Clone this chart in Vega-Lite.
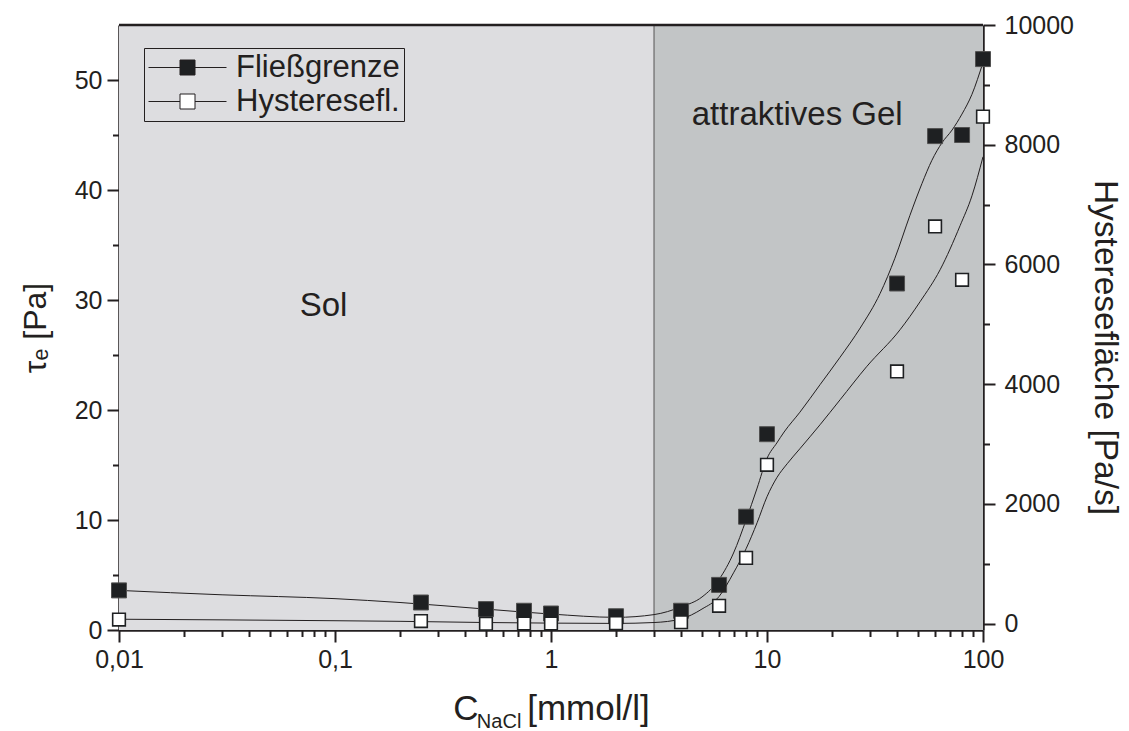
{
  "$schema": "https://vega.github.io/schema/vega-lite/v6.json",
  "width": 864,
  "height": 605,
  "autosize": {"type": "none"},
  "padding": {"left": 119, "top": 25, "right": 146, "bottom": 101},
  "background": "#ffffff",
  "config": {
    "font": "Liberation Sans",
    "locale": {"number": {"decimal": ",", "thousands": ".", "grouping": [3], "currency": ["", " €"]}},
    "view": {"stroke": null},
    "axis": {
      "grid": false,
      "zindex": 1,
      "domainColor": "#231f20",
      "domainWidth": 2.5,
      "tickColor": "#231f20",
      "tickWidth": 2,
      "labelColor": "#231f20",
      "labelFont": "Liberation Sans",
      "labelFontSize": 25,
      "titleColor": "#231f20",
      "titleFont": "Liberation Sans",
      "titleFontSize": 32,
      "titleFontWeight": "normal",
      "labelOverlap": false,
      "labelFlush": false
    },
    "legend": {"strokeWidth": 1}
  },
  "datasets": {
    "regions": [
      {"x1": 0.01, "x2": 3, "region": "Sol"},
      {"x1": 3, "x2": 100, "region": "Gel"}
    ],
    "points": [
      {"c": 0.01, "series": "Fließgrenze", "value": 3.6},
      {"c": 0.25, "series": "Fließgrenze", "value": 2.5},
      {"c": 0.5, "series": "Fließgrenze", "value": 1.9},
      {"c": 0.75, "series": "Fließgrenze", "value": 1.75},
      {"c": 1, "series": "Fließgrenze", "value": 1.5},
      {"c": 2, "series": "Fließgrenze", "value": 1.25},
      {"c": 4, "series": "Fließgrenze", "value": 1.75},
      {"c": 6, "series": "Fließgrenze", "value": 4.1},
      {"c": 8, "series": "Fließgrenze", "value": 10.3},
      {"c": 10, "series": "Fließgrenze", "value": 17.8},
      {"c": 40, "series": "Fließgrenze", "value": 31.5},
      {"c": 60, "series": "Fließgrenze", "value": 44.9},
      {"c": 80, "series": "Fließgrenze", "value": 45.0},
      {"c": 100, "series": "Fließgrenze", "value": 51.9},
      {"c": 0.01, "series": "Hysteresefl.", "value": 70},
      {"c": 0.25, "series": "Hysteresefl.", "value": 45},
      {"c": 0.5, "series": "Hysteresefl.", "value": 0},
      {"c": 0.75, "series": "Hysteresefl.", "value": 5},
      {"c": 1, "series": "Hysteresefl.", "value": 5},
      {"c": 2, "series": "Hysteresefl.", "value": 10},
      {"c": 4, "series": "Hysteresefl.", "value": 25},
      {"c": 6, "series": "Hysteresefl.", "value": 300},
      {"c": 8, "series": "Hysteresefl.", "value": 1100},
      {"c": 10, "series": "Hysteresefl.", "value": 2655},
      {"c": 40, "series": "Hysteresefl.", "value": 4213},
      {"c": 60, "series": "Hysteresefl.", "value": 6635},
      {"c": 80, "series": "Hysteresefl.", "value": 5745},
      {"c": 100, "series": "Hysteresefl.", "value": 8470}
    ],
    "fitF": [
      {"c": 0.01, "value": 3.6},
      {"c": 0.03, "value": 3.2},
      {"c": 0.1, "value": 2.85},
      {"c": 0.2, "value": 2.5},
      {"c": 0.5, "value": 1.9},
      {"c": 1, "value": 1.45},
      {"c": 2, "value": 1.15},
      {"c": 3, "value": 1.4},
      {"c": 4, "value": 2.1},
      {"c": 5, "value": 3.0},
      {"c": 6, "value": 4.6},
      {"c": 7, "value": 7.0},
      {"c": 8, "value": 10.0},
      {"c": 9, "value": 12.9},
      {"c": 10, "value": 15.6},
      {"c": 11.1, "value": 17.0},
      {"c": 12, "value": 18.0},
      {"c": 14.2, "value": 19.8},
      {"c": 17.6, "value": 22.3},
      {"c": 21.8, "value": 24.8},
      {"c": 27, "value": 27.45},
      {"c": 33.4, "value": 30.6},
      {"c": 39.1, "value": 33.8},
      {"c": 45.9, "value": 37.7},
      {"c": 52.2, "value": 40.6},
      {"c": 58, "value": 42.7},
      {"c": 64.6, "value": 44.3},
      {"c": 71.9, "value": 45.45},
      {"c": 79.9, "value": 46.9},
      {"c": 88.9, "value": 48.7},
      {"c": 100, "value": 51.6}
    ],
    "fitH": [
      {"c": 0.01, "value": 75},
      {"c": 0.1, "value": 50},
      {"c": 0.2, "value": 40},
      {"c": 0.5, "value": 20},
      {"c": 1, "value": 10},
      {"c": 2, "value": 5},
      {"c": 3, "value": 20},
      {"c": 4, "value": 80},
      {"c": 5, "value": 245},
      {"c": 6, "value": 455},
      {"c": 7, "value": 850},
      {"c": 8, "value": 1252},
      {"c": 9, "value": 1687},
      {"c": 10, "value": 2121},
      {"c": 11.1, "value": 2438},
      {"c": 12.4, "value": 2672},
      {"c": 14.2, "value": 2923},
      {"c": 17.6, "value": 3323},
      {"c": 21.8, "value": 3741},
      {"c": 28.9, "value": 4292},
      {"c": 41.3, "value": 4910},
      {"c": 51.1, "value": 5377},
      {"c": 63.3, "value": 5912},
      {"c": 78.3, "value": 6647},
      {"c": 88.9, "value": 7147},
      {"c": 100, "value": 7799}
    ]
  },
  "layer": [
    {
      "layer": [
        {
          "data": {"name": "regions"},
          "mark": {"type": "rect"},
          "encoding": {
            "x": {
              "field": "x1",
              "type": "quantitative",
              "scale": {"type": "log", "domain": [0.01, 100]},
              "axis": {
                "orient": "bottom",
                "values": [0.01, 0.1, 1, 10, 100],
                "format": "~g",
                "tickSize": 12,
                "labelPadding": 5,
                "title": "C\u00a0\u00a0\u00a0\u00a0\u00a0[mmol/l]",
                "titleFontSize": 35,
                "titlePadding": 19
              }
            },
            "x2": {"field": "x2"},
            "color": {
              "field": "region",
              "type": "nominal",
              "scale": {"domain": ["Sol", "Gel"], "range": ["#dddde0", "#c2c5c6"]},
              "legend": null
            }
          }
        },
        {
          "data": {"values": [{"boundary": 3}]},
          "mark": {"type": "rule", "color": "#7d7d7d", "strokeWidth": 1.5},
          "encoding": {
            "x": {"field": "boundary", "type": "quantitative", "scale": {"type": "log", "domain": [0.01, 100]}}
          }
        },
        {
          "data": {"name": "fitF"},
          "mark": {"type": "line", "interpolate": "monotone", "color": "#231f20", "strokeWidth": 1},
          "encoding": {
            "x": {"field": "c", "type": "quantitative", "scale": {"type": "log", "domain": [0.01, 100]}},
            "y": {
              "field": "value",
              "type": "quantitative",
              "scale": {"domain": [0, 55], "nice": false, "zero": false},
              "axis": {
                "orient": "left",
                "values": [0, 10, 20, 30, 40, 50],
                "format": "d",
                "tickSize": 12,
                "labelPadding": 5,
                "title": "τₑ [Pa]",
                "titlePadding": 22
              }
            }
          }
        },
        {
          "data": {"name": "points"},
          "transform": [{"filter": "datum.series == 'Fließgrenze'"}],
          "mark": {"type": "point", "shape": "square", "size": 225, "filled": true, "opacity": 1, "stroke": "#505050", "strokeWidth": 1},
          "encoding": {
            "x": {"field": "c", "type": "quantitative", "scale": {"type": "log", "domain": [0.01, 100]}},
            "y": {"field": "value", "type": "quantitative", "scale": {"domain": [0, 55], "nice": false, "zero": false}},
            "fill": {
              "field": "series",
              "type": "nominal",
              "scale": {"domain": ["Fließgrenze", "Hysteresefl."], "range": ["#1e2022", "#ffffff"]},
              "legend": {
                "title": null,
                "orient": "none",
                "legendX": 25,
                "legendY": 23,
                "symbolType": "M-5.2,0H-1M1,0H5.2M-1,-1H1V1H-1Z",
                "symbolSize": 225,
                "symbolStrokeColor": "#231f20",
                "symbolStrokeWidth": 1,
                "symbolOffset": 24,
                "symbolOpacity": 1,
                "labelFont": "Liberation Sans",
                "labelFontSize": 31,
                "labelColor": "#231f20",
                "labelOffset": 33,
                "labelLimit": 400,
                "strokeColor": "#231f20",
                "padding": 4,
                "rowPadding": 2
              }
            }
          }
        }
      ]
    },
    {
      "layer": [
        {
          "data": {"name": "fitH"},
          "mark": {"type": "line", "interpolate": "monotone", "color": "#231f20", "strokeWidth": 1},
          "encoding": {
            "x": {"field": "c", "type": "quantitative", "scale": {"type": "log", "domain": [0.01, 100]}, "axis": null},
            "y": {
              "field": "value",
              "type": "quantitative",
              "scale": {"domain": [-105, 10000], "nice": false, "zero": false},
              "axis": {
                "orient": "right",
                "values": [0, 2000, 4000, 6000, 8000, 10000],
                "format": "d",
                "tickSize": 12,
                "labelPadding": 9,
                "title": "Hysteresefläche [Pa/s]",
                "titleFontSize": 33.5,
                "titleY": 322,
                "titlePadding": 14
              }
            }
          }
        }
      ]
    },
    {
      "layer": [
        {
          "data": {"name": "points"},
          "transform": [{"filter": "datum.series == 'Hysteresefl.'"}],
          "mark": {"type": "point", "shape": "square", "size": 160, "filled": true, "opacity": 1, "stroke": "#1e2022", "strokeWidth": 1.6},
          "encoding": {
            "x": {
              "field": "c",
              "type": "quantitative",
              "scale": {"type": "log", "domain": [0.01, 100]},
              "axis": {
                "orient": "bottom",
                "values": [0.02, 0.03, 0.04, 0.05, 0.06, 0.07, 0.08, 0.09, 0.2, 0.3, 0.4, 0.5, 0.6, 0.7, 0.8, 0.9, 2, 3, 4, 5, 6, 7, 8, 9, 20, 30, 40, 50, 60, 70, 80, 90],
                "labels": false,
                "domain": false,
                "tickSize": 6.5,
                "title": null
              }
            },
            "y": {
              "field": "value",
              "type": "quantitative",
              "scale": {"domain": [-105, 10000], "nice": false, "zero": false},
              "axis": {
                "orient": "right",
                "values": [1000, 3000, 5000, 7000, 9000],
                "labels": false,
                "domain": false,
                "tickSize": 6.5,
                "title": null
              }
            },
            "fill": {
              "field": "series",
              "type": "nominal",
              "scale": {"domain": ["Fließgrenze", "Hysteresefl."], "range": ["#1e2022", "#ffffff"]},
              "legend": {
                "title": null,
                "orient": "none",
                "legendX": 25,
                "legendY": 23,
                "symbolType": "M-5.2,0H-1M1,0H5.2M-1,-1H1V1H-1Z",
                "symbolSize": 225,
                "symbolStrokeColor": "#231f20",
                "symbolStrokeWidth": 1,
                "symbolOffset": 24,
                "symbolOpacity": 1,
                "labelFont": "Liberation Sans",
                "labelFontSize": 31,
                "labelColor": "#231f20",
                "labelOffset": 33,
                "labelLimit": 400,
                "strokeColor": "#231f20",
                "padding": 4,
                "rowPadding": 2
              }
            }
          }
        }
      ]
    },
    {
      "layer": [
        {
          "data": {"values": [{"label": "Sol"}]},
          "mark": {"type": "text", "font": "Liberation Sans", "fontSize": 33, "color": "#231f20", "align": "center", "baseline": "middle"},
          "encoding": {
            "x": {"datum": 0.0885, "type": "quantitative", "scale": {"type": "log", "domain": [0.01, 100]}, "axis": null},
            "y": {
              "datum": 29.5,
              "type": "quantitative",
              "scale": {"domain": [0, 55], "nice": false, "zero": false},
              "axis": {
                "orient": "left",
                "values": [5, 15, 25, 35, 45],
                "labels": false,
                "domain": false,
                "tickSize": 6.5,
                "title": null
              }
            },
            "text": {"field": "label"}
          }
        },
        {
          "data": {"values": [{"label": "attraktives Gel"}]},
          "mark": {"type": "text", "font": "Liberation Sans", "fontSize": 33, "color": "#231f20", "align": "center", "baseline": "middle"},
          "encoding": {
            "x": {"datum": 13.8, "type": "quantitative", "scale": {"type": "log", "domain": [0.01, 100]}, "axis": null},
            "y": {"datum": 46.8, "type": "quantitative", "scale": {"domain": [0, 55], "nice": false, "zero": false}},
            "text": {"field": "label"}
          }
        },
        {
          "data": {"values": [{"label": "NaCl"}]},
          "mark": {"type": "text", "font": "Liberation Sans", "fontSize": 20, "color": "#231f20", "align": "center", "baseline": "middle"},
          "encoding": {
            "x": {"datum": 0.575, "type": "quantitative", "scale": {"type": "log", "domain": [0.01, 100]}, "axis": null},
            "y": {"datum": -8.4, "type": "quantitative", "scale": {"domain": [0, 55], "nice": false, "zero": false}},
            "text": {"field": "label"}
          }
        },
        {
          "data": {"values": [{"edge": "top"}]},
          "mark": {"type": "rule", "color": "#231f20", "strokeWidth": 2.5},
          "encoding": {
            "y": {"datum": 55, "type": "quantitative", "scale": {"domain": [0, 55], "nice": false, "zero": false}}
          }
        }
      ]
    }
  ],
  "resolve": {"scale": {"y": "independent"}, "axis": {"x": "independent", "y": "independent"}}
}
